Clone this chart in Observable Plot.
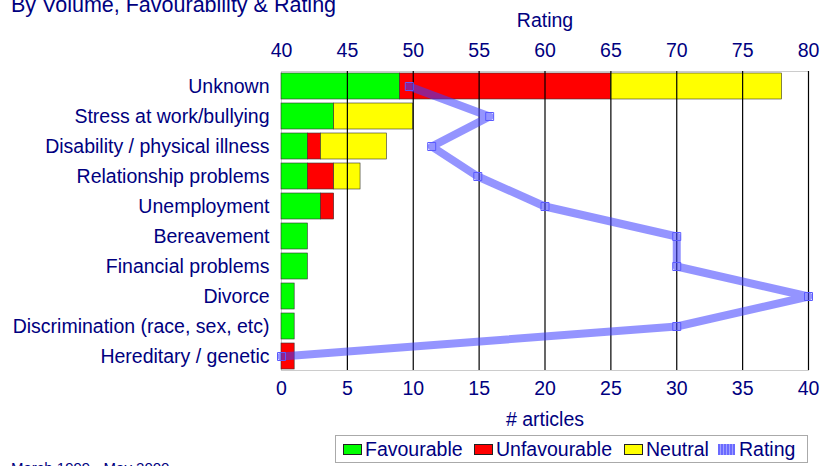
<!DOCTYPE html>
<html>
<head>
<meta charset="utf-8">
<script src="https://cdn.jsdelivr.net/npm/d3@7"></script>
<script src="https://cdn.jsdelivr.net/npm/@observablehq/plot@0.6"></script>
<style>
  html, body { margin: 0; padding: 0; background: #fff; overflow: hidden; }
  body { width: 823px; height: 466px; position: relative; font-family: "Liberation Sans", Arial, sans-serif; color: #000080; }
  #title { position: absolute; left: 11px; top: -7px; font-size: 21.5px; white-space: nowrap; line-height: 24px; }
  #foot { position: absolute; left: 11px; top: 459px; font-size: 15px; white-space: nowrap; }
  #chart { position: absolute; left: 0; top: 0; }
  #legend { position: absolute; left: 335px; top: 435px; width: 473px; height: 28px; border: 1px solid #aaa; box-sizing: border-box; font-size: 19.5px; white-space: nowrap; }
  .item { position: absolute; top: 0; height: 26px; display: flex; align-items: center; }
  .sw { width: 19px; height: 11px; border: 1px solid #222; box-sizing: border-box; margin-right: 3px; }
  .rsw { width: 17px; height: 11px; margin-right: 4px; background: repeating-linear-gradient(90deg, #6a6aff 0 2px, #a0a0ff 2px 3px); }
</style>
</head>
<body>
<div id="title">By Volume, Favourability &amp; Rating</div>
<div id="chart"></div>
<div id="legend">
  <div class="item" style="left:7px"><div class="sw" style="background:#00ff00"></div>Favourable</div>
  <div class="item" style="left:138px"><div class="sw" style="background:#ff0000"></div>Unfavourable</div>
  <div class="item" style="left:288px"><div class="sw" style="background:#ffff00"></div>Neutral</div>
  <div class="item" style="left:382px"><div class="rsw"></div>Rating</div>
</div>
<div id="foot">March 1999 - May 2000</div>
<script>
const categories = [
  "Unknown",
  "Stress at work/bullying",
  "Disability / physical illness",
  "Relationship problems",
  "Unemployment",
  "Bereavement",
  "Financial problems",
  "Divorce",
  "Discrimination (race, sex, etc)",
  "Hereditary / genetic"
];
const favourable   = [9, 4, 2, 2, 3, 2, 2, 1, 1, 0];
const unfavourable = [16, 0, 1, 2, 1, 0, 0, 0, 0, 1];
const neutral      = [13, 6, 5, 2, 0, 0, 0, 0, 0, 0];
const rating       = [49.7, 55.8, 51.4, 54.9, 60, 70, 70, 80, 70, 40];
const seriesNames  = ["Favourable", "Unfavourable", "Neutral"];
const seriesColors = ["#00ff00", "#ff0000", "#ffff00"];
const articleTicks = [0, 5, 10, 15, 20, 25, 30, 35, 40];
const ratingOffset = 40;

const bars = [];
categories.forEach((c, i) => {
  [favourable, unfavourable, neutral].forEach((arr, s) => {
    if (arr[i] > 0) bars.push({cat: c, series: seriesNames[s], order: s, value: arr[i]});
  });
});
const ratingData = categories.map((c, i) => ({cat: c, rating: rating[i]}));

const navy = "#000080";
const chart = Plot.plot({
  width: 823,
  height: 466,
  marginLeft: 281,
  marginRight: 15,
  marginTop: 71,
  marginBottom: 96,
  style: {fontFamily: "'Liberation Sans', Arial, sans-serif", color: navy, background: "transparent"},
  x: {domain: [0, 40]},
  y: {domain: categories, paddingInner: 0.14, paddingOuter: 0.04},
  color: {domain: seriesNames, range: seriesColors},
  marks: [
    Plot.frame({stroke: "#999", strokeDasharray: "1,1"}),
    Plot.barX(bars, Plot.stackX({x: "value", y: "cat", fill: "series", order: "order", stroke: "#333", strokeWidth: 0.6})),
    Plot.ruleX(articleTicks.filter(d => d > 0), {stroke: "#000", strokeWidth: 1.2}),
    Plot.line(ratingData, {x: d => d.rating - ratingOffset, y: "cat", stroke: "#3d3dff", strokeOpacity: 0.55, strokeWidth: 8}),
    Plot.dot(ratingData, {x: d => d.rating - ratingOffset, y: "cat", symbol: "square", r: 4.5, stroke: "#5a5aff", strokeWidth: 1, fill: "none"}),
    Plot.axisY({tickSize: 0, tickPadding: 12, fontSize: 19.5, label: null, color: navy}),
    Plot.axisX({anchor: "bottom", ticks: articleTicks, tickSize: 0, tickPadding: 11, fontSize: 19.5, label: null, color: navy}),
    Plot.axisX({anchor: "top", ticks: articleTicks, tickFormat: d => d + ratingOffset, tickSize: 0, tickPadding: 15, fontSize: 19.5, label: null, color: navy}),
    Plot.text(["Rating"], {frameAnchor: "top", lineAnchor: "middle", dy: -51, fontSize: 19.5, fill: navy}),
    Plot.text(["# articles"], {frameAnchor: "bottom", lineAnchor: "middle", dy: 49, fontSize: 19.5, fill: navy})
  ]
});
document.getElementById("chart").appendChild(chart);
</script>
</body>
</html>
